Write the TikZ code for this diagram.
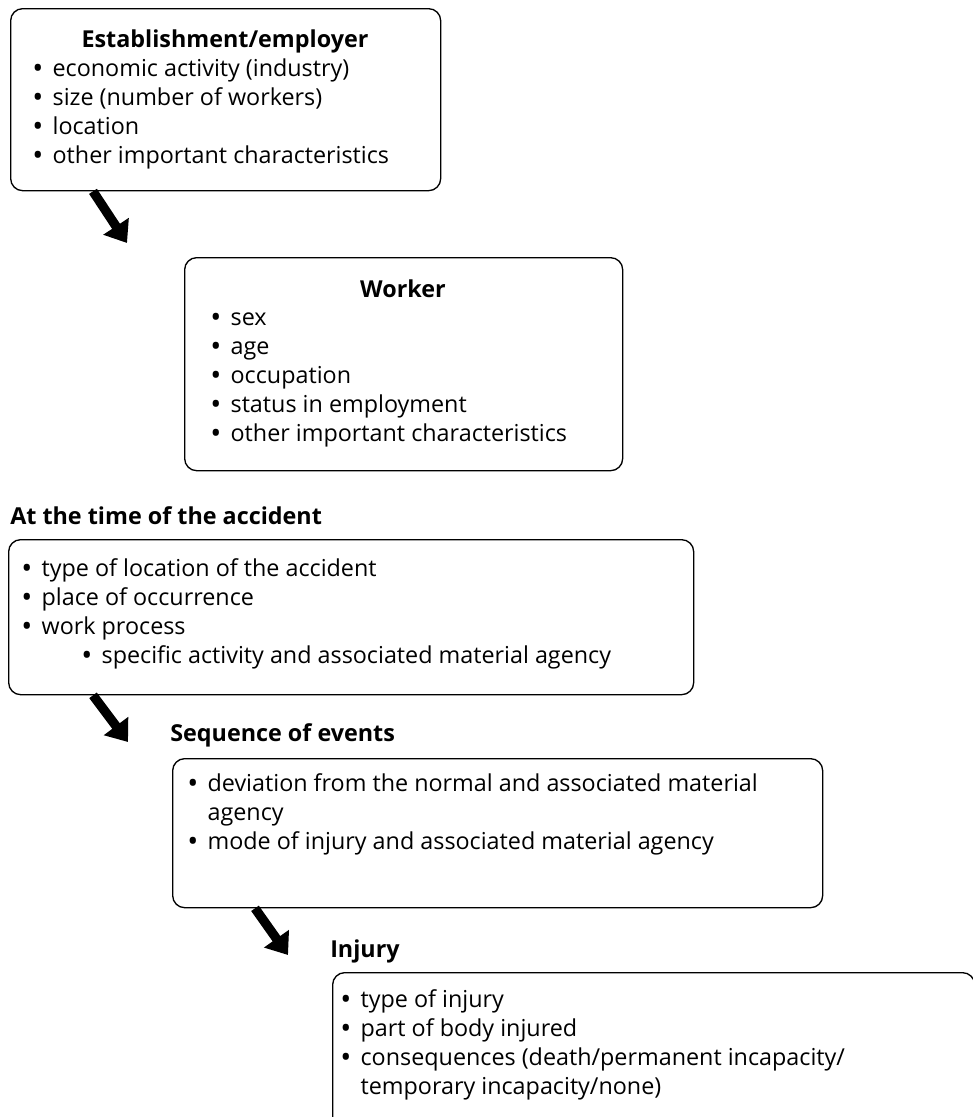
\documentclass[tikz,border=0pt]{standalone}
\usepackage{fontspec}
\setmainfont{Open Sans}
\usetikzlibrary{arrows.meta,positioning}
\newcommand{\bodysize}{\fontsize{17.5}{21.75}\selectfont}
\newcommand{\itm}{\raisebox{-1.8pt}{\fontsize{22}{0}\selectfont\textbullet}\hspace{0.4em}}
\newcommand{\cont}{\phantom{\itm}}
\begin{document}
\begin{tikzpicture}[x=0.75pt,y=-0.75pt,
    box/.style={draw,line width=1pt,rounded corners=9pt,anchor=north west,inner sep=0pt},
    head/.style={font=\bodysize\bfseries,inner sep=0pt},
    items/.style={font=\bodysize,align=left,anchor=north west,inner sep=0pt},
    flow/.style={line width=7pt,-{Triangle[length=15pt,width=22pt]}}]
    \useasboundingbox (0,0) rectangle (973,1117);
    \node[box,minimum width=322.5pt,minimum height=136.5pt] (est) at (10,8) {};
    \node[head,anchor=base] (esthead) at (225,47) {Establishment/employer};
    \node[items] (estlist) at (32,55.7) {\strut\itm economic activity (industry)\\
        \itm size (number of workers)\\ \itm location\\ \itm other important characteristics};
    \node[box,minimum width=328.5pt,minimum height=159.75pt] (wrk) at (184,257) {};
    \node[head,anchor=base] (wrkhead) at (403,297) {Worker};
    \node[items] (wrklist) at (210,304.7) {\strut\itm sex\\ \itm age\\ \itm occupation\\
        \itm status in employment\\ \itm other important characteristics};
    \node[head,anchor=base west] (acchead) at (10,524) {At the time of the accident};
    \node[box,minimum width=513.75pt,minimum height=116.25pt] (acc) at (8,539) {};
    \node[items] (acclist) at (21,555.7) {\strut\itm type of location of the accident\\
        \itm place of occurrence\\ \itm work process\\
        \hspace{45pt}\itm specific activity and associated material agency};
    \node[head,anchor=base west] (seqhead) at (170,741) {Sequence of events};
    \node[box,minimum width=487.5pt,minimum height=111.75pt] (seq) at (172,758) {};
    \node[items] (seqlist) at (187,770.7) {\strut\itm deviation from the normal and associated material\\
        \cont agency\\ \itm mode of injury and associated material agency};
    \node[head,anchor=base west] (injhead) at (330,957) {Injury};
    \node[box,minimum width=481.5pt,minimum height=126pt] (inj) at (332,972) {};
    \node[items] (injlist) at (340,986.7) {\strut\itm type of injury\\ \itm part of body injured\\
        \itm consequences (death/permanent incapacity/\\ \cont temporary incapacity/none)};
    \coordinate (tip1) at (127,243);
    \coordinate (tip2) at (128,742);
    \coordinate (tip3) at (288,955);
    \draw[flow] ([xshift=62.25pt]est.south west) -- (tip1);
    \draw[flow] ([xshift=63.75pt]acc.south west) -- (tip2);
    \draw[flow] ([xshift=62.25pt]seq.south west) -- (tip3);
\end{tikzpicture}
\end{document}
